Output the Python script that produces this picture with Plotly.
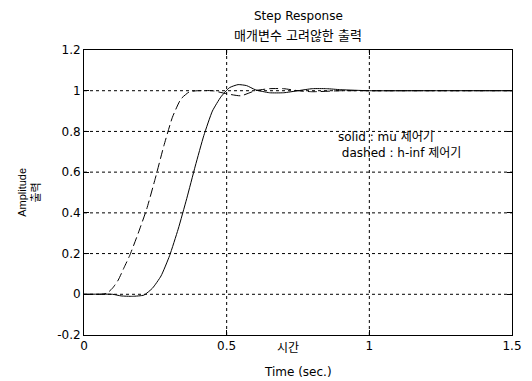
import plotly.graph_objects as go

# h-inf controller (dashed)
t_hinf = [0, 0.06, 0.08, 0.10, 0.12, 0.14, 0.16, 0.19, 0.22, 0.25, 0.28, 0.31, 0.34, 0.37, 0.40,
          0.45, 0.50, 0.55, 0.60, 0.65, 0.70, 0.75, 0.80, 0.90, 1.0, 1.5]
y_hinf = [0, 0, 0.005, 0.03, 0.07, 0.13, 0.19, 0.30, 0.42, 0.57, 0.73, 0.87, 0.96, 0.995, 1.0,
          1.0, 0.985, 0.975, 1.0, 1.01, 1.01, 1.0, 0.995, 1.0, 1.0, 1.0]

# mu controller (solid)
t_mu = [0, 0.10, 0.13, 0.17, 0.21, 0.24, 0.27, 0.30, 0.33, 0.36, 0.39, 0.42, 0.45, 0.48, 0.51,
        0.54, 0.57, 0.60, 0.65, 0.70, 0.75, 0.80, 0.85, 0.90, 1.0, 1.2, 1.5]
y_mu = [0, 0, -0.008, -0.01, -0.004, 0.03, 0.09, 0.19, 0.32, 0.47, 0.63, 0.78, 0.90, 0.97, 1.015,
        1.03, 1.025, 1.005, 0.99, 0.99, 1.0, 1.01, 1.01, 1.005, 1.0, 1.0, 1.0]

x_ticks = [0, 0.5, 1, 1.5]
x_ticklabels = ["0", "0.5", "1", "1.5"]
y_ticks = [-0.2, 0, 0.2, 0.4, 0.6, 0.8, 1, 1.2]
y_ticklabels = ["-0.2", "0", "0.2", "0.4", "0.6", "0.8", "1", "1.2"]

FONT = "DejaVu Sans, Noto Sans CJK KR, sans-serif"
NARROW = "Liberation Sans, Arial, Noto Sans CJK KR, sans-serif"

fig = go.Figure()
fig.add_trace(go.Scatter(x=t_mu, y=y_mu, mode="lines",
                         line=dict(color="black", width=1, shape="spline", smoothing=0.5),
                         showlegend=False, hoverinfo="skip"))
fig.add_trace(go.Scatter(x=t_hinf, y=y_hinf, mode="lines",
                         line=dict(color="black", width=1, dash="9px,4px", shape="spline", smoothing=0.5),
                         showlegend=False, hoverinfo="skip"))

# dashed grid lines
for gy in [0, 0.2, 0.4, 0.6, 0.8, 1.0]:
    fig.add_shape(type="line", xref="x", yref="y", x0=0, x1=1.5, y0=gy, y1=gy,
                  line=dict(color="black", width=1, dash="3px,3px"), layer="below")
for gx in [0.5, 1.0]:
    fig.add_shape(type="line", xref="x", yref="y", x0=gx, x1=gx, y0=-0.2, y1=1.2,
                  line=dict(color="black", width=1, dash="3px,3px"), layer="below")

# page body adds an 8px margin, so the figure is 8px smaller and offset accordingly
fig.update_layout(
    width=524, height=373,
    margin=dict(l=76, r=10, t=42, b=46),
    paper_bgcolor="white", plot_bgcolor="white",
    font=dict(family=FONT, size=12, color="black"),
    xaxis=dict(range=[0, 1.5], tickvals=x_ticks, ticktext=x_ticklabels, showgrid=False, zeroline=False,
               showline=True, linecolor="black", linewidth=1, mirror="ticks", ticks="inside", ticklen=5,
               tickcolor="black", tickfont=dict(size=12)),
    yaxis=dict(range=[-0.2, 1.2], tickvals=y_ticks, ticktext=y_ticklabels, showgrid=False, zeroline=False,
               showline=True, linecolor="black", linewidth=1, mirror="ticks", ticks="inside", ticklen=5,
               tickcolor="black", tickfont=dict(size=12)),
    annotations=[
        dict(text="Step Response", xref="paper", yref="paper", x=0.5, y=1.118, showarrow=False,
             xanchor="center", yanchor="middle", font=dict(size=12)),
        dict(text="매개변수 고려않한 출력", xref="paper", yref="paper", x=0.5, y=1.05, showarrow=False,
             xanchor="center", yanchor="middle", font=dict(size=13)),
        dict(text="시간", xref="x", yref="paper", x=0.716, y=-0.046, showarrow=False,
             xanchor="center", yanchor="middle", font=dict(size=12)),
        dict(text="Time (sec.)", xref="paper", yref="paper", x=0.5, y=-0.13, showarrow=False,
             xanchor="center", yanchor="middle", font=dict(size=12)),
        dict(text="Amplitude<br>출력", xref="paper", yref="paper", x=-0.13, y=0.5, showarrow=False,
             textangle=-90, xanchor="center", yanchor="middle", font=dict(family=NARROW, size=11)),
        dict(text="solid : mu 제어기<br> dashed : h-inf 제어기", xref="x", yref="y", x=0.882, y=0.732,
             showarrow=False, xanchor="left", yanchor="middle", align="left", font=dict(size=12)),
    ],
)

fig.write_html("out.html")
